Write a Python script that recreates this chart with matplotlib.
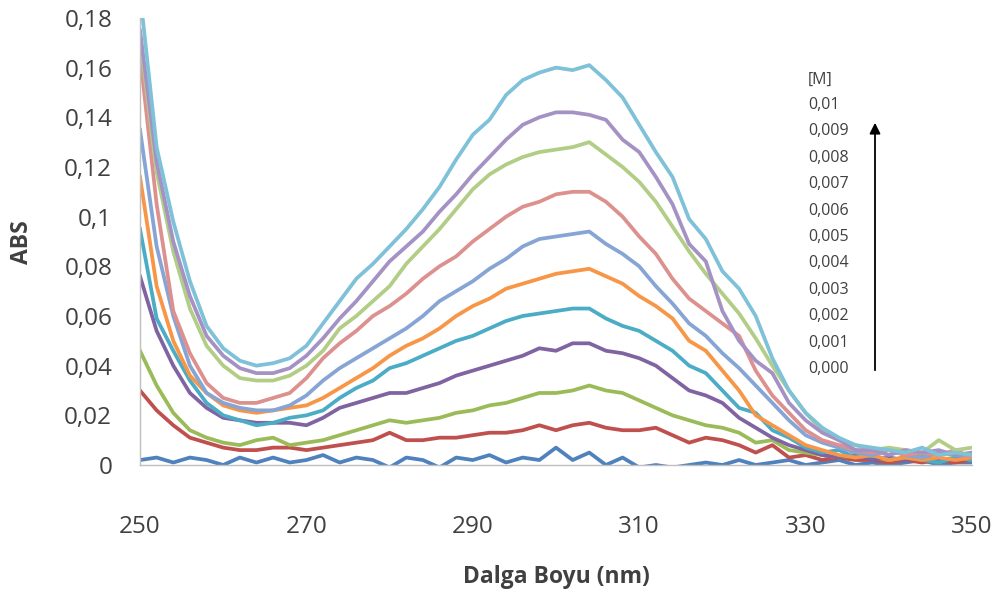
import matplotlib.pyplot as plt

plt.rcParams['font.family'] = ['Open Sans', 'DejaVu Sans']

# wavelength grid (nm), every 2 nm
wavelength = list(range(250, 351, 2))

# absorbance, one list per concentration
abs_0000 = [0.002, 0.003, 0.001, 0.003, 0.002, 0.000, 0.003, 0.001, 0.003, 0.001,
            0.002, 0.004, 0.001, 0.003, 0.002, -0.001, 0.003, 0.002, -0.001, 0.003,
            0.002, 0.004, 0.001, 0.003, 0.002, 0.007, 0.002, 0.005, 0.000, 0.003,
            -0.001, 0.000, -0.001, 0.000, 0.001, 0.000, 0.002, 0.000, 0.001, 0.002,
            0.000, 0.001, 0.002, 0.000, 0.001, 0.000, 0.001, 0.002, 0.000, 0.001, 0.001]
abs_0001 = [0.030, 0.022, 0.016, 0.011, 0.009, 0.007, 0.006, 0.006, 0.007, 0.007,
            0.006, 0.007, 0.008, 0.009, 0.010, 0.013, 0.010, 0.010, 0.011, 0.011,
            0.012, 0.013, 0.013, 0.014, 0.016, 0.014, 0.016, 0.017, 0.015, 0.014,
            0.014, 0.015, 0.012, 0.009, 0.011, 0.010, 0.008, 0.005, 0.008, 0.003,
            0.004, 0.002, 0.003, 0.002, 0.002, 0.001, 0.002, 0.001, 0.002, 0.001, 0.002]
abs_0002 = [0.046, 0.032, 0.021, 0.014, 0.011, 0.009, 0.008, 0.010, 0.011, 0.008,
            0.009, 0.010, 0.012, 0.014, 0.016, 0.018, 0.017, 0.018, 0.019, 0.021,
            0.022, 0.024, 0.025, 0.027, 0.029, 0.029, 0.030, 0.032, 0.030, 0.029,
            0.026, 0.023, 0.020, 0.018, 0.016, 0.015, 0.013, 0.009, 0.010, 0.006,
            0.005, 0.004, 0.003, 0.004, 0.003, 0.002, 0.003, 0.004, 0.002, 0.003, 0.002]
abs_0003 = [0.076, 0.054, 0.040, 0.029, 0.023, 0.019, 0.018, 0.017, 0.017, 0.017,
            0.016, 0.019, 0.023, 0.025, 0.027, 0.029, 0.029, 0.031, 0.033, 0.036,
            0.038, 0.040, 0.042, 0.044, 0.047, 0.046, 0.049, 0.049, 0.046, 0.045,
            0.043, 0.040, 0.035, 0.030, 0.028, 0.025, 0.019, 0.015, 0.011, 0.008,
            0.006, 0.004, 0.003, 0.004, 0.002, 0.003, 0.002, 0.003, 0.002, 0.002, 0.003]
abs_0004 = [0.095, 0.059, 0.046, 0.034, 0.025, 0.020, 0.018, 0.016, 0.017, 0.019,
            0.020, 0.022, 0.027, 0.031, 0.034, 0.039, 0.041, 0.044, 0.047, 0.050,
            0.052, 0.055, 0.058, 0.060, 0.061, 0.062, 0.063, 0.063, 0.059, 0.056,
            0.054, 0.050, 0.046, 0.040, 0.037, 0.030, 0.023, 0.021, 0.014, 0.011,
            0.007, 0.005, 0.006, 0.003, 0.004, 0.002, 0.003, 0.002, 0.001, 0.003, 0.002]
abs_0005 = [0.116, 0.072, 0.050, 0.036, 0.029, 0.024, 0.022, 0.021, 0.022, 0.023,
            0.024, 0.027, 0.031, 0.035, 0.039, 0.044, 0.048, 0.051, 0.055, 0.060,
            0.064, 0.067, 0.071, 0.073, 0.075, 0.077, 0.078, 0.079, 0.076, 0.073,
            0.068, 0.064, 0.059, 0.050, 0.046, 0.038, 0.030, 0.020, 0.016, 0.012,
            0.008, 0.006, 0.004, 0.003, 0.004, 0.002, 0.003, 0.002, 0.003, 0.002, 0.003]
abs_0006 = [0.135, 0.088, 0.060, 0.040, 0.029, 0.025, 0.023, 0.022, 0.022, 0.024,
            0.028, 0.034, 0.039, 0.043, 0.047, 0.051, 0.055, 0.060, 0.066, 0.070,
            0.074, 0.079, 0.083, 0.088, 0.091, 0.092, 0.093, 0.094, 0.089, 0.085,
            0.080, 0.072, 0.065, 0.057, 0.052, 0.045, 0.039, 0.032, 0.025, 0.018,
            0.012, 0.009, 0.007, 0.005, 0.004, 0.006, 0.004, 0.003, 0.005, 0.004, 0.004]
abs_0007 = [0.165, 0.105, 0.062, 0.045, 0.033, 0.027, 0.025, 0.025, 0.027, 0.029,
            0.035, 0.043, 0.049, 0.054, 0.060, 0.064, 0.069, 0.075, 0.080, 0.084,
            0.090, 0.095, 0.100, 0.104, 0.106, 0.109, 0.110, 0.110, 0.106, 0.100,
            0.092, 0.085, 0.075, 0.067, 0.062, 0.057, 0.052, 0.038, 0.028, 0.021,
            0.014, 0.010, 0.008, 0.006, 0.005, 0.006, 0.004, 0.005, 0.004, 0.006, 0.003]
abs_0008 = [0.172, 0.118, 0.086, 0.063, 0.048, 0.040, 0.035, 0.034, 0.034, 0.036,
            0.040, 0.046, 0.055, 0.060, 0.066, 0.072, 0.081, 0.088, 0.095, 0.103,
            0.111, 0.117, 0.121, 0.124, 0.126, 0.127, 0.128, 0.130, 0.125, 0.120,
            0.114, 0.106, 0.096, 0.086, 0.077, 0.069, 0.061, 0.051, 0.040, 0.030,
            0.021, 0.014, 0.010, 0.008, 0.006, 0.007, 0.006, 0.005, 0.010, 0.006, 0.007]
abs_0009 = [0.175, 0.122, 0.090, 0.068, 0.052, 0.044, 0.039, 0.037, 0.037, 0.039,
            0.044, 0.051, 0.059, 0.066, 0.074, 0.082, 0.088, 0.094, 0.102, 0.109,
            0.117, 0.124, 0.131, 0.137, 0.140, 0.142, 0.142, 0.141, 0.139, 0.131,
            0.126, 0.116, 0.105, 0.089, 0.082, 0.062, 0.050, 0.042, 0.037, 0.025,
            0.018, 0.013, 0.010, 0.006, 0.006, 0.004, 0.006, 0.005, 0.006, 0.004, 0.005]
abs_0010 = [0.190, 0.128, 0.098, 0.074, 0.056, 0.047, 0.042, 0.040, 0.041, 0.043,
            0.048, 0.057, 0.066, 0.075, 0.081, 0.088, 0.095, 0.103, 0.112, 0.123,
            0.133, 0.139, 0.149, 0.155, 0.158, 0.160, 0.159, 0.161, 0.155, 0.148,
            0.137, 0.126, 0.116, 0.099, 0.091, 0.078, 0.071, 0.060, 0.043, 0.030,
            0.021, 0.015, 0.011, 0.008, 0.007, 0.006, 0.005, 0.007, 0.004, 0.005, 0.004]

concentrations = ['0,000', '0,001', '0,002', '0,003', '0,004', '0,005',
                  '0,006', '0,007', '0,008', '0,009', '0,01']
spectra = [abs_0000, abs_0001, abs_0002, abs_0003, abs_0004, abs_0005,
           abs_0006, abs_0007, abs_0008, abs_0009, abs_0010]
colors = ['#4F81BD', '#C0504D', '#9BBB59', '#8064A2', '#4BACC6', '#F79646',
          '#86A4D4', '#DD918E', '#B2CD85', '#A592C4', '#7EC1D8']

x_ticks = [250, 270, 290, 310, 330, 350]
y_ticks = [0, 0.02, 0.04, 0.06, 0.08, 0.1, 0.12, 0.14, 0.16, 0.18]
y_tick_labels = ['0', '0,02', '0,04', '0,06', '0,08', '0,1', '0,12', '0,14', '0,16', '0,18']

text_color = '#404040'

fig = plt.figure(figsize=(10.05, 5.99), dpi=100)
ax = fig.add_axes([0.1393, 0.2237, 0.8279, 0.7463])

for values, color in zip(spectra, colors):
    ax.plot(wavelength, values, color=color, linewidth=2.7, solid_joinstyle='round')

ax.set_xlim(250, 350)
ax.set_ylim(0, 0.18)
ax.set_xticks(x_ticks)
ax.set_xticklabels([str(t) for t in x_ticks])
ax.set_yticks(y_ticks)
ax.set_yticklabels(y_tick_labels)
ax.tick_params(axis='both', length=0, labelsize=17.5, labelcolor=text_color)
ax.tick_params(axis='x', pad=36)
ax.tick_params(axis='y', pad=20)

for side in ['top', 'right']:
    ax.spines[side].set_visible(False)
for side in ['left', 'bottom']:
    ax.spines[side].set_color('#BFBFBF')
    ax.spines[side].set_linewidth(1.0)

fig.text(22 / 1005, 1 - 242 / 599, 'ABS', rotation=90, ha='center', va='center',
         fontsize=16.5, fontweight='bold', color=text_color)
fig.text(556 / 1005, 1 - 577 / 599, 'Dalga Boyu (nm)', ha='center', va='center',
         fontsize=16.5, fontweight='bold', color=text_color)

# concentration key with arrow
fig.text(808 / 1005, 1 - 80 / 599, '[M]', ha='left', va='center',
         fontsize=11.5, color=text_color)
for i, label in enumerate(reversed(concentrations)):
    fig.text(808 / 1005, 1 - (105 + 26.4 * i) / 599, label, ha='left', va='center',
             fontsize=11.5, color=text_color)

ax.annotate('', xy=(875 / 1005, 1 - 120 / 599), xytext=(875 / 1005, 1 - 373 / 599),
            xycoords='figure fraction', textcoords='figure fraction',
            arrowprops=dict(arrowstyle='-|>', color='black', lw=1.3, mutation_scale=16))

fig.savefig('out.png', dpi=100)
